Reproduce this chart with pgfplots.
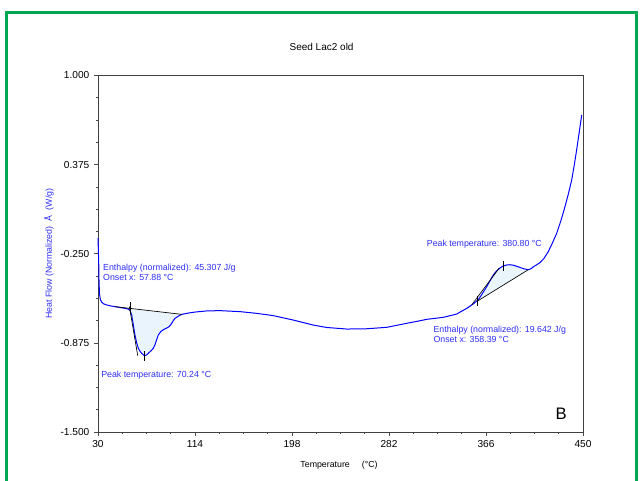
\documentclass[border=0pt]{standalone}
\usepackage{pgfplots}
\pgfplotsset{compat=1.18}
\usepackage{fontspec}
\setmainfont{Liberation Sans}
\definecolor{frameg}{RGB}{0,166,80}
\definecolor{txtblue}{RGB}{45,45,245}
\definecolor{fillb}{RGB}{234,244,252}
\begin{document}
\begin{tikzpicture}
\path[use as bounding box] (-73.5pt,-36pt) rectangle (408pt,324pt);
\begin{axis}[
 at={(0,0)}, anchor=south west,
 scale only axis, width=363.75pt, height=267.4pt,
 xmin=30, xmax=450, ymin=-1.5, ymax=1,
 xtick={30,114,198,282,366,450},
 ytick={-1.5,-0.875,-0.25,0.375,1},
 yticklabels={-1.500,-0.875,-0.250,0.375,1.000},
 minor x tick num=3, minor y tick num=3,
 tick align=outside, tickpos=left,
 major tick length=3pt, minor tick length=1.5pt,
 tick style={black!70, line width=0.5pt},
 axis line style={black!75, line width=0.6pt},
 ticklabel style={font=\fontsize{7.6}{9}\selectfont},
 /pgf/number format/assume math mode=true,
 clip=false,
]
% filled enthalpy regions
\addplot[fill=fillb, draw=none] coordinates {
(44.7,-0.621) (49.0,-0.627) (53.4,-0.633) (56.0,-0.638) (57.7,-0.646) (59.2,-0.680)
(60.6,-0.750) (62.0,-0.820) (63.5,-0.875) (64.9,-0.913) (66.5,-0.935) (67.8,-0.948)
(70.1,-0.965) (72.0,-0.960) (73.6,-0.948) (76.0,-0.930) (77.9,-0.913) (79.5,-0.885)
(82.2,-0.820) (84.5,-0.795) (86.6,-0.783) (89.5,-0.771) (91.5,-0.762) (93.2,-0.746)
(95.0,-0.722) (96.7,-0.703) (99.5,-0.688) (102.5,-0.675)
};
\addplot[fill=fillb, draw=none] coordinates {
(358.8,-0.578) (359.3,-0.572) (362.0,-0.540) (366.6,-0.481) (372.3,-0.399) (375.0,-0.372)
(378.1,-0.350) (381.0,-0.335) (383.9,-0.329) (386.5,-0.327) (389.6,-0.330) (395.4,-0.346)
(399.0,-0.356) (402.6,-0.362)
};
% main curve
\addplot[blue, line width=0.75pt] coordinates {
(30.0,-0.14) (30.3,-0.22) (30.6,-0.30) (30.9,-0.45) (31.3,-0.53) (32.0,-0.57)
(33.2,-0.59) (35.0,-0.602) (37.5,-0.609) (41.0,-0.616) (44.7,-0.621) (49.0,-0.627)
(53.4,-0.633) (56.0,-0.638) (57.7,-0.646) (59.2,-0.680) (60.6,-0.750) (62.0,-0.820)
(63.5,-0.875) (64.9,-0.913) (66.5,-0.935) (67.8,-0.948) (70.1,-0.965) (72.0,-0.960)
(73.6,-0.948) (76.0,-0.930) (77.9,-0.913) (79.5,-0.885) (82.2,-0.820) (84.5,-0.795)
(86.6,-0.783) (89.5,-0.771) (91.5,-0.762) (93.2,-0.746) (95.0,-0.722) (96.7,-0.703)
(99.5,-0.688) (102.5,-0.675) (108.2,-0.666) (114.0,-0.659) (124.1,-0.651) (135.6,-0.649)
(153.0,-0.656) (167.4,-0.668) (181.8,-0.684) (199.1,-0.715) (216.4,-0.750) (228.0,-0.767)
(245.4,-0.778) (262.7,-0.776) (280.0,-0.766) (297.3,-0.738) (308.8,-0.720) (314.6,-0.710)
(329.0,-0.696) (340.6,-0.673) (349.3,-0.633) (355.0,-0.602) (359.3,-0.572) (362.0,-0.540)
(366.6,-0.481) (372.3,-0.399) (375.0,-0.372) (378.1,-0.350) (381.0,-0.335) (383.9,-0.329)
(386.5,-0.327) (389.6,-0.330) (395.4,-0.346) (399.0,-0.356) (402.6,-0.362) (405.0,-0.355)
(407.0,-0.342) (412.8,-0.312) (416.0,-0.285) (419.9,-0.236) (423.5,-0.175) (427.2,-0.107)
(431.0,-0.015) (434.4,0.080) (437.5,0.175) (440.2,0.267) (442.5,0.375) (444.5,0.478)
(446.7,0.600) (448.9,0.723)
};
% analysis lines (left)
\addplot[black, line width=0.5pt] coordinates {(44.7,-0.621) (102.5,-0.675)};
\addplot[black, line width=0.5pt] coordinates {(57.2,-0.621) (64.4,-0.965)};
\addplot[black, line width=0.5pt] coordinates {(57.88,-0.590) (57.88,-0.665)};
\addplot[black, line width=0.5pt] coordinates {(70.24,-0.935) (70.24,-1.000)};
% analysis lines (right)
\addplot[black, line width=0.5pt] coordinates {(358.8,-0.581) (402.6,-0.362)};
\addplot[black, line width=0.5pt] coordinates {(353.6,-0.609) (377.3,-0.352)};
\addplot[black, line width=0.5pt] coordinates {(358.39,-0.545) (358.39,-0.615)};
\addplot[black, line width=0.5pt] coordinates {(380.8,-0.300) (380.8,-0.370)};
% annotations
\node[anchor=west, align=left, inner sep=0pt, text=txtblue, font=\fontsize{6.6}{7.9}\selectfont]
 at (axis cs:34.3,-0.380) {Enthalpy (normalized): 45.307 J/g\\Onset x: 57.88 °C};
\node[anchor=west, inner sep=0pt, text=txtblue, font=\fontsize{6.6}{7.9}\selectfont]
 at (axis cs:32.6,-1.105) {Peak temperature: 70.24 °C};
\node[anchor=west, inner sep=0pt, text=txtblue, font=\fontsize{6.6}{7.9}\selectfont]
 at (axis cs:314.6,-0.184) {Peak temperature: 380.80 °C};
\node[anchor=west, align=left, inner sep=0pt, text=txtblue, font=\fontsize{6.6}{7.9}\selectfont]
 at (axis cs:320.4,-0.816) {Enthalpy (normalized): 19.642 J/g\\Onset x: 358.39 °C};
% labels
\node[font=\fontsize{7.5}{9}\selectfont] at ([yshift=21.4pt]rel axis cs:0.461,1) {Seed Lac2 old};
\node[font=\fontsize{6.6}{8}\selectfont] at ([yshift=-24.75pt]rel axis cs:0.497,0) {Temperature\hspace{9pt}(°C)};
\node[rotate=90, text=txtblue, font=\fontsize{6.6}{8}\selectfont] at ([xshift=-36.75pt]rel axis cs:0,0.5) {Heat Flow (Normalized)\hspace{4pt}Å\hspace{4pt}(W/g)};
\node[font=\fontsize{12.5}{14}\selectfont] at (rel axis cs:0.955,0.050) {B};
\end{axis}
\draw[frameg, line width=2.25pt] (-68.25pt,-40pt) -- (-68.25pt,314.6pt) -- (403.5pt,314.6pt) -- (403.5pt,-40pt);
\end{tikzpicture}
\end{document}
